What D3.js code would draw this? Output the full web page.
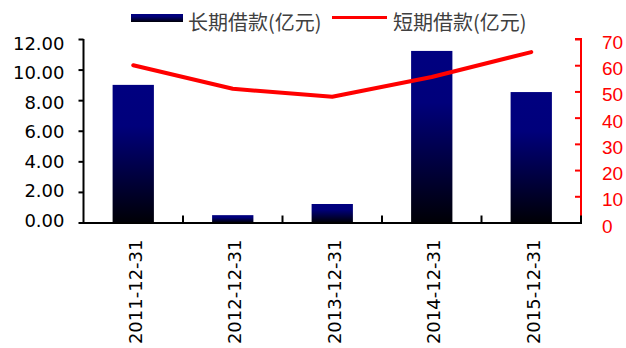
<!DOCTYPE html>
<html>
<head>
<meta charset="utf-8">
<script src="https://cdn.jsdelivr.net/npm/d3@7"></script>
<style>
  html, body { margin: 0; padding: 0; background: #fff; }
  svg { display: block; }
</style>
</head>
<body>
<svg id="chart" width="626" height="348"></svg>
<script>
// Balance-sheet borrowings by report date
const categories = ["2011-12-31", "2012-12-31", "2013-12-31", "2014-12-31", "2015-12-31"];
const longTermLoans = [9.0, 0.48, 1.21, 11.22, 8.53];   // 长期借款 (亿元), left axis
const shortTermLoans = [60, 51, 48, 55.5, 65];         // 短期借款 (亿元), right axis
const leftTicks = [0, 2, 4, 6, 8, 10, 12];
const rightTicks = [0, 10, 20, 30, 40, 50, 60, 70];
const seriesNames = ["长期借款(亿元)", "短期借款(亿元)"];

const svg = d3.select("#chart");
const plotLeft = 83.5, plotRight = 581, plotBottom = 222.5, plotTop = 39;

const defs = svg.append("defs");
const grad = defs.append("linearGradient")
  .attr("id", "barFill").attr("x1", 0).attr("y1", 0).attr("x2", 0).attr("y2", 1);
grad.append("stop").attr("offset", "0%").attr("stop-color", "#000080");
grad.append("stop").attr("offset", "30%").attr("stop-color", "#00007b");
grad.append("stop").attr("offset", "100%").attr("stop-color", "#000006");

const x = d3.scaleBand().domain(categories).range([plotLeft, plotRight])
  .paddingInner(0.585).paddingOuter(0.2925);
const xEdge = d3.scaleBand().domain(categories).range([plotLeft, plotRight]);
const yL = d3.scaleLinear().domain([0, 12]).range([plotBottom, plotTop]);
const yR = d3.scaleLinear().domain([0, 70]).range([plotBottom, plotTop]);

// bars
svg.append("g").selectAll("rect").data(longTermLoans).join("rect")
  .attr("x", (d, i) => x(categories[i]))
  .attr("width", x.bandwidth())
  .attr("y", d => yL(d))
  .attr("height", d => yL(0) - yL(d))
  .attr("fill", "url(#barFill)");

// left axis (labels spread slightly wider than the tick spacing)
const gL = svg.append("g").attr("transform", `translate(${plotLeft},0)`)
  .call(d3.axisLeft(yL).tickValues(leftTicks).tickFormat(d3.format(".2f")).tickSize(5).tickPadding(14));
gL.select(".domain").attr("stroke", "#000").attr("stroke-width", 2).attr("d", `M0,${plotTop}H0V${plotBottom}`);
gL.selectAll(".tick line").attr("stroke", "#000").attr("stroke-width", 2);
gL.selectAll(".tick text").attr("fill", "#000")
  .style("font-family", "'DejaVu Sans', Verdana, sans-serif").style("font-size", "18px")
  .attr("dy", d => (0.32 * 18 - 2 + d * 0.55) + "px");

// right axis
const gR = svg.append("g").attr("transform", `translate(${plotRight},0)`)
  .call(d3.axisRight(yR).tickValues(rightTicks).tickSize(-6).tickPadding(21));
gR.select(".domain").attr("stroke", "#ff0000").attr("stroke-width", 2).attr("d", `M-6,${plotTop}H0V${plotBottom}`);
gR.selectAll(".tick line").attr("stroke", "#ff0000").attr("stroke-width", 2);
gR.selectAll(".tick text").attr("fill", "#ff0000")
  .style("font-family", "'Liberation Sans', Arial, sans-serif").style("font-size", "19px")
  .attr("dy", "0.5em");

// category axis with marks at band boundaries
const gX = svg.append("g").attr("transform", `translate(0,${plotBottom})`);
gX.append("line").attr("x1", plotLeft - 1).attr("x2", plotRight + 1).attr("y1", 0.5).attr("y2", 0.5)
  .attr("stroke", "#000").attr("stroke-width", 2);
const edges = categories.slice(1).map(c => xEdge(c)).concat([plotRight]);
gX.selectAll("line.edge").data(edges).join("line").attr("class", "edge")
  .attr("x1", d => d).attr("x2", d => d).attr("y1", 0).attr("y2", -7)
  .attr("stroke", "#000").attr("stroke-width", 2);
gX.selectAll("text").data(categories).join("text")
  .attr("transform", d => `translate(${x(d) + x.bandwidth() / 2 + 2},${17}) rotate(-90)`)
  .attr("text-anchor", "end").attr("dy", "0.35em")
  .attr("fill", "#000")
  .style("font-family", "'DejaVu Sans', Verdana, sans-serif").style("font-size", "18px")
  .text(d => d);

// short-term loans line
const line = d3.line()
  .x((d, i) => x(categories[i]) + x.bandwidth() / 2)
  .y(d => yR(d));
svg.append("path").datum(shortTermLoans)
  .attr("d", line).attr("fill", "none")
  .attr("stroke", "#ff0000").attr("stroke-width", 4)
  .attr("stroke-linecap", "round").attr("stroke-linejoin", "round");

// legend
const lg = svg.append("g");
lg.append("rect").attr("x", 131).attr("y", 14).attr("width", 52).attr("height", 8).attr("fill", "url(#barFill)");
lg.append("text").attr("x", 188).attr("y", 30).text(seriesNames[0]);
lg.append("line").attr("x1", 332).attr("x2", 387).attr("y1", 17.5).attr("y2", 17.5)
  .attr("stroke", "#ff0000").attr("stroke-width", 3);
lg.append("text").attr("x", 393).attr("y", 30).text(seriesNames[1]);
lg.selectAll("text").attr("fill", "#404040")
  .style("font-family", "'Noto Sans CJK SC', sans-serif").style("font-size", "20px");
</script>
</body>
</html>
